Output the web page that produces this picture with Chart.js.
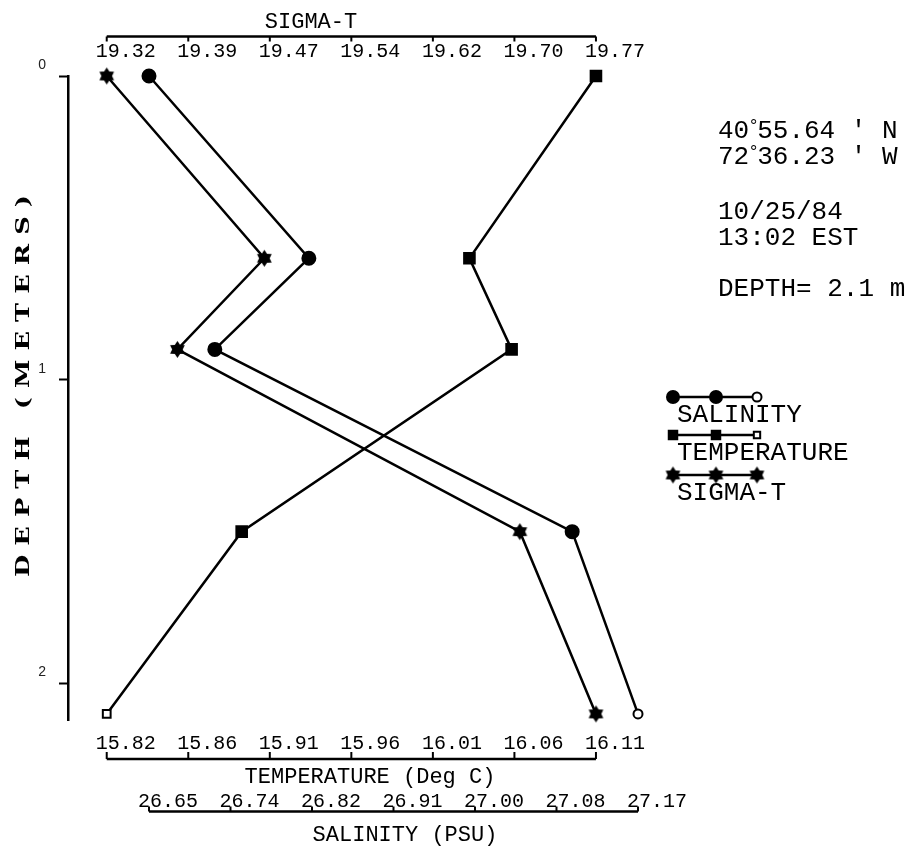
<!DOCTYPE html>
<html lang="en">
<head>
<meta charset="UTF-8">
<title>Depth profile 10/25/84</title>
<style>
  body { margin: 0; padding: 0; background: #fff; }
  canvas { display: block; }
</style>
<script src="https://cdn.jsdelivr.net/npm/chart.js"></script>
</head>
<body>
<canvas id="chart" width="912" height="846"></canvas>
<script>
// sample depths (m) and the three profiles
const depths = [0, 0.6, 0.9, 1.5, 2.1];
const salinity = [26.65, 26.82, 26.72, 27.10, 27.17];
const temperature = [16.11, 16.035, 16.06, 15.90, 15.82];
const sigmaT = [19.32, 19.465, 19.385, 19.70, 19.77];

// axis tick labels as printed (evenly spaced between first and last)
const depthTicks = [0, 1, 2];
const sigmaTicks = ['19.32', '19.39', '19.47', '19.54', '19.62', '19.70', '19.77'];
const tempTicks = ['15.82', '15.86', '15.91', '15.96', '16.01', '16.06', '16.11'];
const salTicks = ['26.65', '26.74', '26.82', '26.91', '27.00', '27.08', '27.17'];

// station text: [degrees, rest] for the position lines, plain text for the others
const stationInfo = [
  { deg: '40', text: "55.64 ' N", y: 138 },
  { deg: '72', text: "36.23 ' W", y: 164 },
  { text: '10/25/84', y: 219 },
  { text: '13:02 EST', y: 245 },
  { text: 'DEPTH= 2.1 m', y: 296 }
];

const INK = '#000';
const MONO = '"Liberation Mono", "Courier New", monospace';

// each x axis only covers part of the plot width (fractions of chart area)
function axisRange(ticks, a, b) {
  const lo = parseFloat(ticks[0]), hi = parseFloat(ticks[ticks.length - 1]);
  const span = (hi - lo) / (b - a);
  return { min: lo - a * span, max: lo + (1 - a) * span };
}
const sigmaRange = axisRange(sigmaTicks, 0.0677, 0.923);
const tempRange = axisRange(tempTicks, 0.0677, 0.923);
const salRange = axisRange(salTicks, 0.1416, 0.9965);

// filled six point star used for sigma-t
function makeStar(r) {
  const c = document.createElement('canvas');
  const s = Math.ceil(r * 2 + 2);
  c.width = s; c.height = s;
  const g = c.getContext('2d');
  g.fillStyle = INK;
  g.beginPath();
  for (let i = 0; i < 12; i++) {
    const rr = i % 2 === 0 ? r : r * 0.62;
    const ang = -Math.PI / 2 + i * Math.PI / 6;
    const px = s / 2 + rr * Math.cos(ang), py = s / 2 + rr * Math.sin(ang);
    if (i === 0) g.moveTo(px, py); else g.lineTo(px, py);
  }
  g.closePath();
  g.fill();
  return c;
}
const starImg = makeStar(8.5);

function pts(values) {
  return depths.map((d, i) => ({ x: values[i], y: d }));
}

// x axes, titles, station text and legend drawn onto the canvas
function drawXAxis(ctx, scale, labels, lineY, tickLen, labelY) {
  const lo = parseFloat(labels[0]), hi = parseFloat(labels[labels.length - 1]);
  const n = labels.length - 1;
  ctx.strokeStyle = INK;
  ctx.lineWidth = 2.5;
  ctx.beginPath();
  ctx.moveTo(scale.getPixelForValue(lo), lineY);
  ctx.lineTo(scale.getPixelForValue(hi), lineY);
  ctx.stroke();
  ctx.font = '20px ' + MONO;
  ctx.fillStyle = INK;
  ctx.textAlign = 'left';
  ctx.textBaseline = 'alphabetic';
  labels.forEach((t, i) => {
    const x = scale.getPixelForValue(lo + i * (hi - lo) / n);
    ctx.lineWidth = 2;
    ctx.beginPath();
    ctx.moveTo(x, lineY);
    ctx.lineTo(x, lineY + tickLen);
    ctx.stroke();
    ctx.fillText(t, x - 11, labelY);
  });
}

const decor = {
  id: 'decor',
  afterDraw(chart) {
    const ctx = chart.ctx;
    const s = chart.scales;
    ctx.save();
    drawXAxis(ctx, s.xSigma, sigmaTicks, 36.5, 5, 57);
    drawXAxis(ctx, s.xTemp, tempTicks, 759, -7, 749);
    drawXAxis(ctx, s.xSal, salTicks, 811.5, -5, 807);

    ctx.font = '22px ' + MONO;
    ctx.textAlign = 'center';
    ctx.fillText('SIGMA-T', 311, 28);
    ctx.fillText('TEMPERATURE (Deg C)', 370, 783);
    ctx.fillText('SALINITY (PSU)', 405, 841);

    // vertical axis title, widely spaced, stretched bold letters
    const title = 'DEPTH (METERS)';
    const stretch = 1.35;
    ctx.save();
    ctx.translate(29, 386);
    ctx.rotate(-Math.PI / 2);
    ctx.scale(stretch, 1);
    ctx.font = 'bold 19px "DejaVu Serif", serif';
    ctx.textAlign = 'left';
    const total = 382 / stretch;
    const widths = [...title].map(ch => ctx.measureText(ch).width);
    const gap = (total - widths.reduce((a, b) => a + b, 0)) / (title.length - 1);
    let x = -total / 2;
    [...title].forEach((ch, i) => { ctx.fillText(ch, x, 0); x += widths[i] + gap; });
    ctx.restore();

    // station block, degree sign as small superscript
    ctx.textAlign = 'left';
    stationInfo.forEach(row => {
      let x = 718;
      ctx.font = '26px ' + MONO;
      if (row.deg) {
        ctx.fillText(row.deg, x, row.y);
        x += ctx.measureText(row.deg).width;
        ctx.font = '18px ' + MONO;
        ctx.fillText('°', x - 1, row.y - 7);
        x += 8;
        ctx.font = '26px ' + MONO;
      }
      ctx.fillText(row.text, x, row.y);
    });

    // legend: line with three markers, label underneath
    const legendRows = [
      { ds: 0, y: 397, text: 'SALINITY' },
      { ds: 1, y: 435, text: 'TEMPERATURE' },
      { ds: 2, y: 475, text: 'SIGMA-T' }
    ];
    legendRows.forEach(row => {
      const ds = chart.data.datasets[row.ds];
      ctx.strokeStyle = INK;
      ctx.lineWidth = 2.5;
      ctx.beginPath();
      ctx.moveTo(673, row.y);
      ctx.lineTo(757, row.y);
      ctx.stroke();
      [673, 716, 757].forEach((mx, k) => {
        const last = k === 2 && row.ds !== 2;
        ctx.fillStyle = last ? '#fff' : INK;
        ctx.strokeStyle = INK;
        ctx.lineWidth = 2;
        Chart.helpers.drawPoint(ctx, {
          pointStyle: ds.pointStyle,
          radius: last ? 4.5 : 6,
          rotation: 0,
          borderWidth: 2
        }, mx, row.y);
      });
      ctx.fillStyle = INK;
      ctx.font = '26px ' + MONO;
      ctx.fillText(row.text, 677, row.y + 25);
    });
    ctx.restore();
  }
};

new Chart(document.getElementById('chart'), {
  type: 'scatter',
  data: {
    datasets: [
      {
        label: 'SALINITY',
        xAxisID: 'xSal',
        data: pts(salinity),
        showLine: true,
        clip: false,
        borderColor: INK,
        borderWidth: 2.5,
        pointStyle: 'circle',
        pointRadius: [6.5, 6.5, 6.5, 6.5, 4.5],
        pointBackgroundColor: [INK, INK, INK, INK, '#fff'],
        pointBorderColor: INK,
        pointBorderWidth: 2
      },
      {
        label: 'TEMPERATURE',
        xAxisID: 'xTemp',
        data: pts(temperature),
        showLine: true,
        clip: false,
        borderColor: INK,
        borderWidth: 2.5,
        pointStyle: 'rect',
        pointRadius: [7.5, 7.5, 7.5, 7.5, 5.5],
        pointBackgroundColor: [INK, INK, INK, INK, '#fff'],
        pointBorderColor: INK,
        pointBorderWidth: 2
      },
      {
        label: 'SIGMA-T',
        xAxisID: 'xSigma',
        data: pts(sigmaT),
        showLine: true,
        clip: false,
        borderColor: INK,
        borderWidth: 2.5,
        pointStyle: starImg,
        pointRadius: 8.5
      }
    ]
  },
  options: {
    responsive: false,
    animation: false,
    layout: { padding: { left: 28, top: 76, right: 272, bottom: 126 } },
    plugins: { legend: { display: false }, tooltip: { enabled: false } },
    scales: {
      xSigma: { type: 'linear', position: 'top', display: false, min: sigmaRange.min, max: sigmaRange.max },
      xTemp: { type: 'linear', position: 'bottom', display: false, min: tempRange.min, max: tempRange.max },
      xSal: { type: 'linear', position: 'bottom', display: false, min: salRange.min, max: salRange.max },
      y: {
        type: 'linear',
        position: 'left',
        reverse: true,
        min: 0,
        max: 2.12,
        afterBuildTicks: sc => { sc.ticks = depthTicks.map(v => ({ value: v })); },
        afterFit: sc => { sc.width = 40; },
        grid: { drawOnChartArea: false, tickLength: 9, tickColor: INK, tickWidth: 2 },
        border: { display: true, color: INK, width: 2.5 },
        ticks: {
          color: '#222',
          font: { family: '"Liberation Sans", Arial, sans-serif', size: 14 },
          padding: 13,
          labelOffset: -11
        }
      }
    }
  },
  plugins: [decor]
});
</script>
</body>
</html>
